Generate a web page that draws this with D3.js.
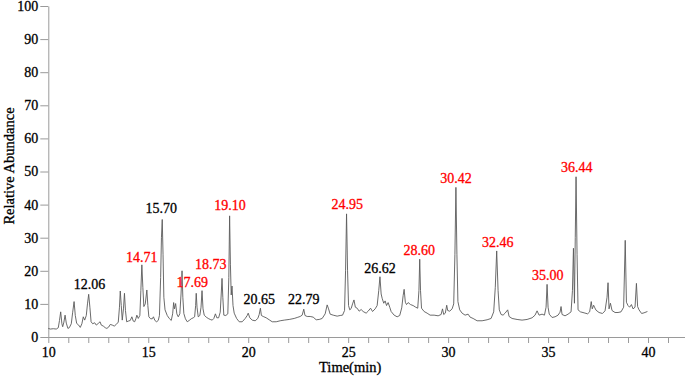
<!DOCTYPE html>
<html>
<head>
<meta charset="utf-8">
<script src="https://cdn.jsdelivr.net/npm/d3@7/dist/d3.min.js"></script>
<style>
  html, body { margin: 0; padding: 0; background: #fff; }
  svg { display: block; }
  text { font-family: "Liberation Serif", "Times New Roman", serif; }
</style>
</head>
<body>
<svg id="chart" width="685" height="381"></svg>
<script>
// ---- data: retention time (min) and relative abundance ----
const times = [
  10.00,10.10,10.25,10.40,10.50,10.56,10.62,10.68,10.72,10.78,10.84,10.90,10.98,11.05,11.15,11.22,11.29,11.35,11.42,11.52,
  11.60,11.68,11.75,11.82,11.90,11.96,12.02,12.08,12.14,12.22,12.32,12.40,12.50,12.59,12.65,12.75,12.85,12.93,13.02,13.10,
  13.20,13.30,13.40,13.50,13.56,13.60,13.65,13.70,13.76,13.81,13.86,13.92,14.00,14.10,14.18,14.25,14.32,14.38,14.43,14.50,
  14.58,14.63,14.68,14.73,14.78,14.85,14.93,14.98,15.03,15.12,15.20,15.26,15.33,15.42,15.50,15.56,15.62,15.66,15.70,15.74,
  15.78,15.84,15.95,16.05,16.15,16.22,16.27,16.31,16.37,16.43,16.50,16.58,16.64,16.69,16.73,16.78,16.86,16.95,17.05,17.15,
  17.25,17.32,17.37,17.40,17.44,17.50,17.58,17.64,17.69,17.74,17.80,17.90,18.00,18.10,18.20,18.28,18.36,18.43,18.52,18.60,
  18.65,18.69,18.73,18.78,18.88,18.98,19.03,19.07,19.11,19.15,19.19,19.24,19.30,19.42,19.55,19.70,19.85,19.95,20.00,20.08,
  20.20,20.35,20.48,20.55,20.61,20.66,20.75,20.90,21.05,21.20,21.40,21.60,21.80,22.05,22.30,22.45,22.60,22.70,22.78,22.84,
  22.95,23.10,23.25,23.40,23.55,23.70,23.85,23.95,24.02,24.10,24.25,24.45,24.60,24.72,24.82,24.87,24.92,24.97,25.02,25.08,
  25.15,25.22,25.29,25.36,25.45,25.55,25.65,25.75,25.90,26.00,26.12,26.22,26.35,26.45,26.53,26.59,26.65,26.70,26.78,26.85,
  26.92,27.00,27.08,27.15,27.30,27.45,27.58,27.68,27.75,27.80,27.86,27.92,28.00,28.12,28.25,28.38,28.48,28.54,28.58,28.62,
  28.67,28.80,28.95,29.10,29.30,29.50,29.65,29.72,29.78,29.86,29.93,29.98,30.08,30.20,30.28,30.34,30.39,30.44,30.49,30.58,
  30.70,30.85,31.00,31.10,31.25,31.45,31.70,31.95,32.15,32.28,32.36,32.43,32.50,32.56,32.65,32.75,32.85,32.98,33.05,33.20,
  33.45,33.70,33.95,34.20,34.35,34.45,34.55,34.70,34.82,34.90,34.95,35.00,35.06,35.20,35.35,35.50,35.60,35.65,35.70,35.85,
  36.00,36.15,36.22,36.27,36.32,36.36,36.40,36.45,36.50,36.62,36.80,36.98,37.08,37.16,37.21,37.28,37.34,37.40,37.55,37.72,
  37.85,37.95,38.00,38.05,38.12,38.20,38.35,38.50,38.65,38.78,38.86,38.92,39.00,39.08,39.17,39.25,39.35,39.42,39.48,39.55,
  39.68,39.80,39.97
];
const abundance = [
  2.6,2.4,2.5,2.4,2.8,5.0,7.6,4.0,3.1,4.5,6.6,4.2,2.6,2.8,4.0,7.5,10.7,6.5,4.1,3.6,
  2.9,4.0,6.1,5.1,6.5,10.0,12.9,9.0,4.6,4.0,4.3,3.6,4.1,4.6,3.6,3.3,2.8,2.6,3.0,3.8,
  3.6,3.3,3.8,4.5,9.0,13.9,9.5,5.1,8.5,13.2,8.0,4.6,4.8,5.0,6.1,4.8,4.6,5.5,6.6,5.6,
  6.5,14.0,21.8,15.0,9.2,10.0,14.2,9.5,6.1,5.5,5.5,6.1,5.0,4.6,5.0,6.5,18.0,30.0,35.5,25.0,
  12.0,8.2,6.5,5.6,5.0,7.0,10.4,8.5,10.1,7.0,6.1,7.0,13.0,20.0,12.0,7.1,5.5,4.6,5.0,5.5,
  5.8,6.1,9.5,13.2,9.0,6.1,6.5,9.0,14.0,8.5,6.6,6.0,5.6,5.3,5.1,5.6,7.0,5.8,5.8,7.5,
  13.0,17.7,12.0,6.6,6.5,7.0,18.0,36.6,22.0,12.7,15.4,9.5,7.2,5.6,4.6,4.6,5.6,6.5,7.2,5.8,
  5.1,4.9,5.6,6.8,8.7,6.5,6.2,5.8,5.2,4.6,4.6,4.9,5.1,5.3,5.6,5.9,6.2,6.6,8.4,6.5,
  6.2,6.2,6.0,5.2,5.3,5.6,7.0,9.7,8.5,6.9,6.6,6.3,6.5,6.6,8.0,20.0,37.2,20.0,9.5,8.2,
  8.6,10.0,11.2,9.0,8.7,7.8,8.3,7.7,7.2,7.8,8.7,7.7,8.5,9.5,14.0,18.2,13.0,11.7,10.2,10.9,
  9.5,10.4,9.0,7.7,6.6,6.1,6.5,8.8,12.5,14.4,10.5,9.8,10.4,9.8,9.5,9.0,8.7,14.0,23.5,14.0,
  8.7,7.7,7.2,6.6,6.6,6.4,6.8,8.5,6.8,7.2,9.6,8.0,7.8,8.5,10.0,25.0,45.2,25.0,10.7,8.2,
  7.2,6.6,6.9,6.0,5.6,4.9,4.9,5.2,5.6,7.6,15.0,26.0,14.0,8.2,6.8,6.6,7.2,8.2,6.2,5.6,
  5.3,5.1,5.3,5.8,6.6,7.9,6.6,6.9,6.6,9.0,15.9,9.0,6.9,5.9,6.1,6.6,7.5,9.2,6.8,6.4,
  6.9,7.6,14.0,26.8,10.2,30.0,48.4,25.0,8.2,7.6,7.3,7.0,7.6,10.7,8.5,9.6,8.8,8.1,7.4,7.1,
  7.9,12.0,16.4,8.5,10.2,8.0,7.4,7.4,7.6,9.0,29.2,10.5,9.5,9.0,9.8,8.5,9.0,16.2,9.2,8.2,
  7.1,7.3,7.7
];

// ---- peak annotations ----
const peakLabels = ["12.06","14.71","15.70","17.69","18.73","19.10","20.65","22.79","24.95","26.62","28.60","30.42","32.46","35.00","36.44"];
const labelTimes = [12.06,14.68,15.65,17.20,18.13,19.09,20.55,22.78,24.96,26.59,28.55,30.40,32.48,34.98,36.44];
const labelLevels = [14.5,22.7,37.5,15.0,20.5,38.4,10.0,10.0,38.7,19.4,24.8,46.6,27.1,17.2,49.8];
const labelHighlighted = [false,true,false,true,true,true,false,false,true,false,true,true,true,true,true];

// ---- axes ----
const xTicks = d3.range(10, 42, 1);
const xTickLabels = [10,15,20,25,30,35,40];
const yTicks = [0,10,20,30,40,50,60,70,80,90,100];

const svg = d3.select("#chart");
const x = d3.scaleLinear().domain([10, 41.85]).range([48.3, 685]);
const y = d3.scaleLinear().domain([0, 100]).range([337, 6]);

const axisColor = "#9a9a9a";
const heavy = sel => sel.attr("stroke", function() { return d3.select(this).attr("fill") || "#000"; })
  .attr("stroke-width", 0.3);

// y axis
const gy = svg.append("g").attr("transform", `translate(${x(10)},0)`)
  .call(d3.axisLeft(y).tickValues(yTicks).tickSize(8).tickPadding(2).tickSizeOuter(0));
gy.select(".domain").attr("stroke", axisColor);
gy.selectAll(".tick line").attr("stroke", axisColor);
gy.selectAll(".tick text").attr("fill", "#000").style("font-size", "14px")
  .style("font-family", '"Liberation Serif", serif').call(heavy);

// x axis
const gx = svg.append("g").attr("transform", `translate(0,${y(0)})`)
  .call(d3.axisBottom(x).tickValues(xTicks).tickSize(6).tickPadding(4).tickSizeOuter(0)
    .tickFormat(d => xTickLabels.includes(d) ? d3.format("d")(d) : ""));
gx.select(".domain").attr("stroke", axisColor).attr("d", `M${x(10)},0.5H685`);
gx.selectAll(".tick line").attr("stroke", axisColor);
gx.selectAll(".tick text").attr("fill", "#000").style("font-size", "14px")
  .style("font-family", '"Liberation Serif", serif').call(heavy);

// axis titles
svg.append("text")
  .attr("x", x(25) + 2).attr("y", 372)
  .attr("text-anchor", "middle")
  .attr("fill", "#000")
  .style("font-size", "14.5px")
  .text("Time(min)").call(heavy);
svg.append("text")
  .attr("transform", `translate(14,${166}) rotate(-90)`)
  .attr("text-anchor", "middle")
  .attr("fill", "#000")
  .style("font-size", "14.5px")
  .text("Relative Abundance").call(heavy);

// chromatogram trace
const pts = times.map((t, i) => [t, abundance[i]]);
svg.append("path")
  .datum(pts)
  .attr("fill", "none")
  .attr("stroke", "#5a5a5a")
  .attr("stroke-width", 0.9)
  .attr("stroke-linejoin", "round")
  .attr("d", d3.line().x(d => x(d[0])).y(d => y(d[1])));

// peak labels
svg.append("g").selectAll("text")
  .data(peakLabels)
  .join("text")
  .attr("x", (d, i) => x(labelTimes[i]))
  .attr("y", (d, i) => y(labelLevels[i]))
  .attr("text-anchor", "middle")
  .attr("fill", (d, i) => labelHighlighted[i] ? "#ff0000" : "#000")
  .style("font-size", "14px")
  .text(d => d)
  .call(heavy);
</script>
</body>
</html>
